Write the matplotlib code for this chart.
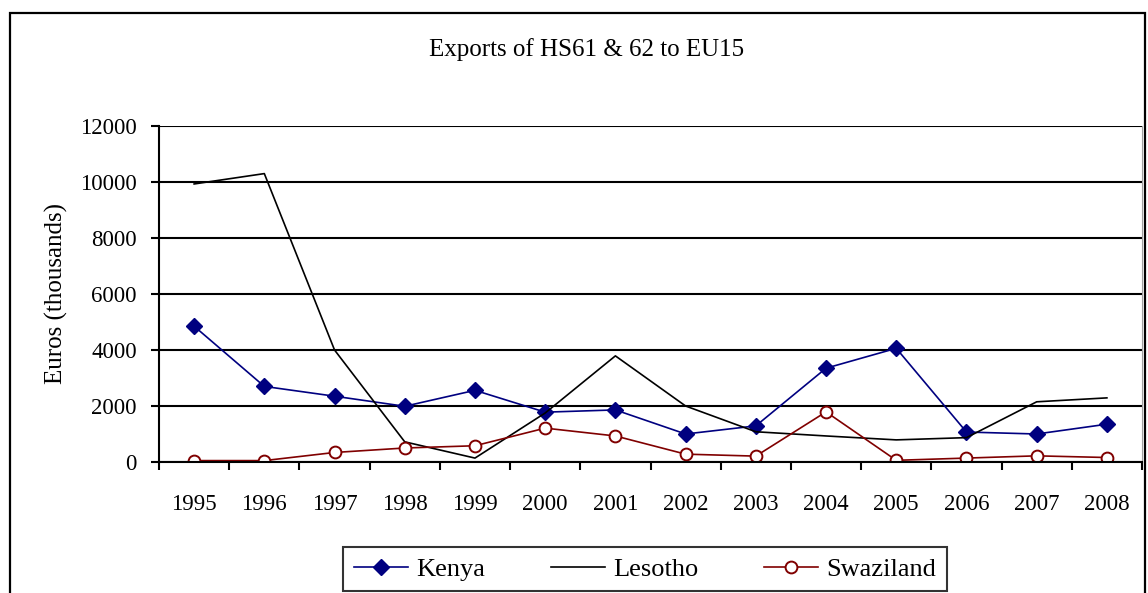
import matplotlib
matplotlib.use("Agg")
import matplotlib.pyplot as plt
from matplotlib.patches import Rectangle
import numpy as np

plt.rcParams['font.family'] = ['Liberation Serif', 'DejaVu Serif']

years = ['1995', '1996', '1997', '1998', '1999', '2000', '2001',
         '2002', '2003', '2004', '2005', '2006', '2007', '2008']
kenya = [4850, 2700, 2350, 1990, 2560, 1780, 1860, 1000, 1290, 3350, 4060, 1070, 1000, 1350]
lesotho = [9930, 10300, 4000, 720, 140, 1750, 3790, 2000, 1080, 930, 790, 870, 2150, 2290]
swaziland = [50, 50, 340, 500, 580, 1210, 930, 280, 210, 1790, 60, 140, 220, 160]
yticks = [0, 2000, 4000, 6000, 8000, 10000, 12000]

fig = plt.figure(figsize=(11.48, 5.93), dpi=100)
ax = fig.add_axes([159 / 1148, 1 - 462 / 593, 983 / 1148, 336 / 593])

x = np.arange(len(years))
ax.plot(x, kenya, '-D', color='#000080', lw=1.2, ms=8, label='Kenya')
ax.plot(x, lesotho, '-', color='black', lw=1.2, label='Lesotho')
ax.plot(x, swaziland, '-o', color='#800000', lw=1.2, ms=8.5, mfc='white',
        mew=1.4, label='Swaziland')

# y axis
ax.set_ylim(0, 12000)
ax.set_yticks(yticks)
ax.set_yticklabels([str(v) for v in yticks])
ax.yaxis.grid(True, color='black', lw=1.5)
ax.set_axisbelow(True)
ax.tick_params(axis='y', length=6, width=1.5, labelsize=16.5, pad=10)
ax.set_ylabel('Euros (thousands)', fontsize=18, labelpad=9)

# x axis: categories with ticks between them
ax.set_xlim(-0.5, len(years) - 0.5)
ax.set_xticks(x)
ax.set_xticklabels(years)
ax.set_xticks(np.arange(len(years) + 1) - 0.5, minor=True)
ax.tick_params(axis='x', which='major', length=0, labelsize=16.5, pad=23)
ax.tick_params(axis='x', which='minor', length=6, width=1.5)

for s in ['left', 'bottom']:
    ax.spines[s].set_linewidth(1.5)
ax.spines['top'].set_visible(False)
ax.spines['right'].set_color('#a0a0a0')

fig.text(587 / 1148, 1 - 50 / 593, 'Exports of HS61 & 62 to EU15',
         ha='center', va='center', fontsize=18)

leg = fig.legend(loc='center', bbox_to_anchor=(645 / 1148, 1 - 569 / 593),
                 ncol=3, fontsize=19, frameon=True, fancybox=False,
                 edgecolor='black', handlelength=2.05, columnspacing=2.5,
                 borderpad=0.4, handletextpad=0.3)
leg.get_frame().set_linewidth(1.5)

# outer chart frame
fig.add_artist(Rectangle((10 / 1148, -0.05), 1135 / 1148, 1.05 - 13 / 593,
                         transform=fig.transFigure, fill=False,
                         edgecolor='black', lw=1.6, clip_on=False))

fig.savefig('out.png', dpi=100)
